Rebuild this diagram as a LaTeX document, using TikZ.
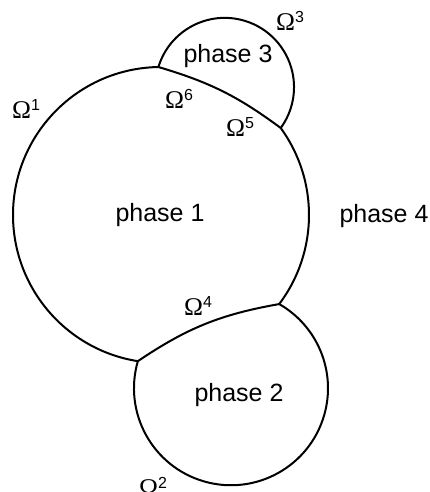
\documentclass[tikz,border=0pt]{standalone}
\usepackage{fontspec}
\setmainfont{Liberation Sans}
\newfontfamily\omfont{Liberation Serif}
\usetikzlibrary{calc}

% Omega with a sans-serif superscript index
\newcommand{\omlab}[1]{{\fontsize{25.5}{25.5}\selectfont\omfont Ω}\raisebox{8.5pt}{\fontsize{16}{16}\selectfont #1}}

\tikzset{
  boundary/.style={line width=2pt, line join=round},
  phaselabel/.style={font=\fontsize{25}{25}\selectfont, anchor=base, inner sep=0pt},
  omegalabel/.style={anchor=base west, inner sep=0pt},
}

\begin{document}
\begin{tikzpicture}[x=1pt, y=1pt]
  \useasboundingbox (0,0) rectangle (430,492);

  % centres of the three grain circles
  \coordinate (O1) at (161,277);
  \coordinate (O3) at (224.74,404.83);
  \coordinate (O2) at (231.0,103.8);

  % triple junctions on the phase 1 circle
  \coordinate (A) at ($(O1)+(91:148)$);
  \coordinate (B) at ($(O1)+(36:148)$);
  \coordinate (C) at ($(O1)+(-37:148)$);
  \coordinate (D) at ($(O1)+(261:148)$);

  % outer boundary of phase 1
  \draw[boundary] (A) arc[start angle=91, end angle=261, radius=148];
  \draw[boundary] (B) arc[start angle=36, end angle=-37, radius=148];

  % phase 3 cap
  \draw[boundary] (A) arc[start angle=163.1, end angle=-36.1, radius=69.3];

  % phase 2 cap
  \draw[boundary] (D) arc[start angle=163.8, end angle=420.2, radius=97];

  % internal interfaces
  \draw[boundary] (A) to[bend left=10] (B);
  \draw[boundary] (D) to[bend left=12] (C);

  % phase names
  \node[phaselabel] (p1) at (160,270) {phase 1};
  \node[phaselabel] (p2) at (239,90) {phase 2};
  \node[phaselabel] (p3) at (228,429) {phase 3};
  \node[phaselabel] (p4) at (384,269) {phase 4};

  % interface labels
  \node[omegalabel] (w1) at (12,373) {\omlab{1}};
  \node[omegalabel] (w2) at (139,-5) {\omlab{2}};
  \node[omegalabel] (w3) at (276,461) {\omlab{3}};
  \node[omegalabel] (w4) at (184,176) {\omlab{4}};
  \node[omegalabel] (w5) at (226,355) {\omlab{5}};
  \node[omegalabel] (w6) at (165,383) {\omlab{6}};
\end{tikzpicture}
\end{document}
